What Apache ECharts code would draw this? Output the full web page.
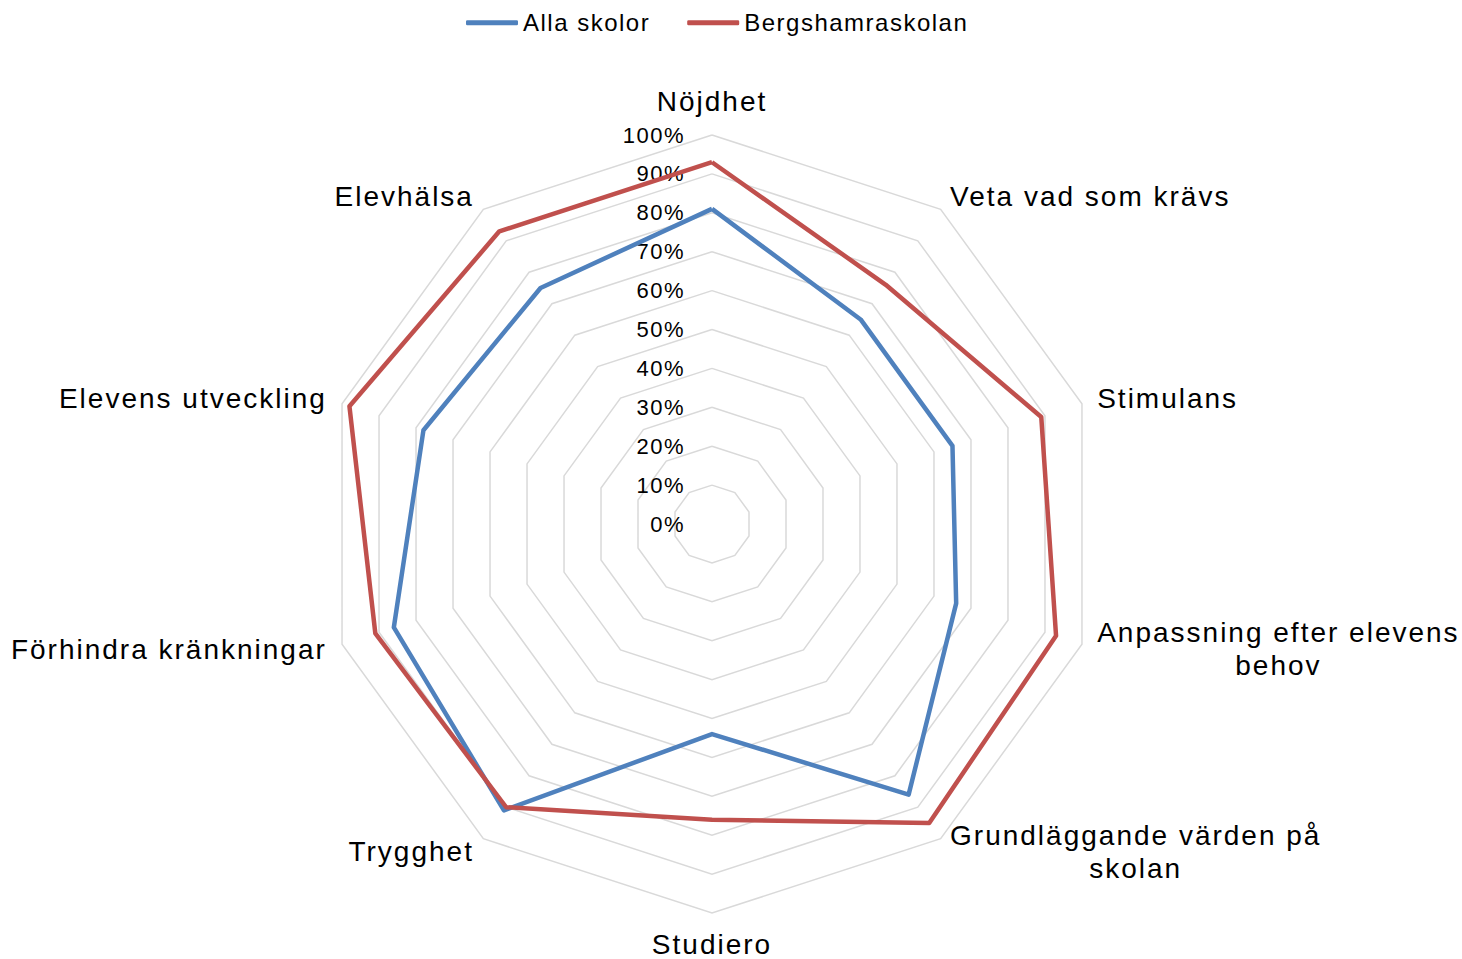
<!DOCTYPE html>
<html>
<head>
<meta charset="utf-8">
<script src="https://cdn.jsdelivr.net/npm/echarts@6/dist/echarts.min.js"></script>
<style>
html, body { margin: 0; padding: 0; background: #fff; }
#chart { width: 1462px; height: 959px; }
/* Excel-style wide text: axis names 28px, legend 24px, tick labels 22px */
#chart text[style*="28px"] { letter-spacing: 2px; }
#chart text[style*="24px"] { letter-spacing: 1.5px; }
#chart text[style*="22px"] { letter-spacing: 1.5px; }
</style>
</head>
<body>
<div id="chart"></div>
<script>
// indicators in clockwise order starting at the top
var indicatorNames = ['Nöjdhet', 'Veta vad som krävs', 'Stimulans', 'Anpassning efter elevens\nbehov',
    'Grundläggande värden på\nskolan', 'Studiero', 'Trygghet', 'Förhindra kränkningar',
    'Elevens utveckling', 'Elevhälsa'];
var seriesNames = ['Alla skolor', 'Bergshamraskolan'];
var allaSkolor = [81, 65, 65, 66, 86, 54, 91, 86, 78, 75];
var bergshamra = [93, 76, 89, 93, 95, 76, 90, 91, 98, 93];
var seriesColors = ['#4f81bd', '#c0504d'];

var fontName = 'Liberation Sans, Arial, sans-serif';

function spacingFor(font) {
    if (/28px/.test(font)) return 2;
    if (/24px/.test(font)) return 1.5;
    if (/22px/.test(font)) return 1.5;
    return 0;
}

// measure text the same way the svg draws it (with letter spacing)
var measureCtx = document.createElement('canvas').getContext('2d');
if (echarts.setPlatformAPI) {
    echarts.setPlatformAPI({
        measureText: function (text, font) {
            measureCtx.font = font;
            var w = measureCtx.measureText(text).width;
            return { width: w + spacingFor(font) * String(text).length };
        }
    });
}

// echarts lays radar axes out counter clockwise
var order = [0];
for (var i = indicatorNames.length - 1; i > 0; i--) order.push(i);
function reorder(arr) {
    return order.map(function (k) { return arr[k]; });
}

var chart = echarts.init(document.getElementById('chart'), null, { renderer: 'svg' });

var option = {
    animation: false,
    backgroundColor: '#fff',
    legend: {
        top: 5,
        left: 461,
        icon: 'roundRect',
        itemWidth: 52,
        itemHeight: 5,
        itemGap: 37,
        textStyle: { fontSize: 24, color: '#000', fontFamily: fontName },
        data: seriesNames
    },
    grid: { left: 712, top: 135, height: 389, width: 10 },
    xAxis: { type: 'value', show: false, min: 0, max: 1 },
    yAxis: {
        type: 'value',
        min: 0,
        max: 100,
        interval: 10,
        axisLine: { show: false },
        axisTick: { show: false },
        splitLine: { show: false },
        axisLabel: {
            formatter: '{value}%',
            fontSize: 22,
            color: '#000',
            fontFamily: fontName,
            margin: 27
        }
    },
    radar: {
        center: [712, 524],
        radius: 389,
        startAngle: 90,
        splitNumber: 10,
        shape: 'polygon',
        nameGap: 16,
        indicator: reorder(indicatorNames).map(function (n) {
            return { name: n, min: 0, max: 100 };
        }),
        axisName: {
            color: '#000',
            fontSize: 28,
            fontFamily: fontName,
            formatter: function (name) {
                if (name === indicatorNames[0]) return '{t|' + name + '}';
                if (name.indexOf('\n') < 0) return name;
                return name.split('\n').map(function (l) { return '{c|' + l + '}'; }).join('\n');
            },
            rich: {
                t: { fontSize: 28, color: '#000', fontFamily: fontName, padding: [0, 0, 3, 0] },
                c: { align: 'center', fontSize: 28, lineHeight: 33, color: '#000', fontFamily: fontName }
            }
        },
        axisLine: { show: false },
        axisTick: { show: false },
        axisLabel: { show: false },
        splitLine: { lineStyle: { color: '#d9d9d9', width: 1.5 } },
        splitArea: { show: false }
    },
    series: [{
        type: 'radar',
        symbol: 'none',
        data: [
            {
                name: seriesNames[0],
                value: reorder(allaSkolor),
                lineStyle: { color: seriesColors[0], width: 4.5 },
                itemStyle: { color: seriesColors[0] }
            },
            {
                name: seriesNames[1],
                value: reorder(bergshamra),
                lineStyle: { color: seriesColors[1], width: 4.5 },
                itemStyle: { color: seriesColors[1] }
            }
        ]
    }]
};

chart.setOption(option);
</script>
</body>
</html>
